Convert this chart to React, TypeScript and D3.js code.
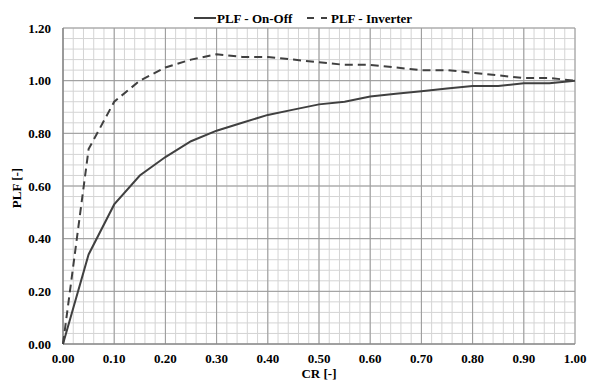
import * as d3 from 'd3'

const crValues = [0, 0.05, 0.1, 0.15, 0.2, 0.25, 0.3, 0.35, 0.4, 0.45, 0.5, 0.55, 0.6, 0.65, 0.7, 0.75, 0.8, 0.85, 0.9, 0.95, 1.0]
const plfOnOff = [0, 0.34, 0.53, 0.64, 0.71, 0.77, 0.81, 0.84, 0.87, 0.89, 0.91, 0.92, 0.94, 0.95, 0.96, 0.97, 0.98, 0.98, 0.99, 0.99, 1.0]
const plfInverter = [0, 0.74, 0.92, 1.0, 1.05, 1.08, 1.1, 1.09, 1.09, 1.08, 1.07, 1.06, 1.06, 1.05, 1.04, 1.04, 1.03, 1.02, 1.01, 1.01, 1.0]
const xTicks = [0, 0.1, 0.2, 0.3, 0.4, 0.5, 0.6, 0.7, 0.8, 0.9, 1.0]
const yTicks = [0, 0.2, 0.4, 0.6, 0.8, 1.0, 1.2]

const W = 593, H = 384
const m = { top: 28, right: 18, bottom: 40, left: 63 }
const font = '"Liberation Serif", "Times New Roman", serif'
const lineColor = '#404040'

const App = () => {
  const x = d3.scaleLinear().domain([0, 1]).range([m.left, W - m.right])
  const y = d3.scaleLinear().domain([0, 1.2]).range([H - m.bottom, m.top])
  const minorX = d3.range(0, 51).map(i => i * 0.02)
  const minorY = d3.range(0, 31).map(i => i * 0.04)
  const line = d3.line<number>()
    .x((_, i) => x(crValues[i]))
    .y(d => y(d))

  return (
    <svg width={W} height={H} style={{ position: 'absolute', left: 0, top: 0, background: '#fff' }}>
      <g>
        {minorX.map((v, i) => (
          <line key={'mx' + i} x1={x(v)} x2={x(v)} y1={y(0)} y2={y(1.2)} stroke="#d4d4d4" strokeWidth={1} />
        ))}
        {minorY.map((v, i) => (
          <line key={'my' + i} x1={x(0)} x2={x(1)} y1={y(v)} y2={y(v)} stroke="#d4d4d4" strokeWidth={1} />
        ))}
        {xTicks.map((v, i) => (
          <line key={'gx' + i} x1={x(v)} x2={x(v)} y1={y(0)} y2={y(1.2)} stroke="#9a9a9a" strokeWidth={1} />
        ))}
        {yTicks.map((v, i) => (
          <line key={'gy' + i} x1={x(0)} x2={x(1)} y1={y(v)} y2={y(v)} stroke="#9a9a9a" strokeWidth={1} />
        ))}
        <line x1={x(0)} x2={x(0)} y1={y(0)} y2={y(1.2)} stroke="#808080" strokeWidth={1.2} />
        <line x1={x(0)} x2={x(1)} y1={y(0)} y2={y(0)} stroke="#808080" strokeWidth={1.2} />
      </g>
      <path d={line(plfOnOff) ?? ''} fill="none" stroke={lineColor} strokeWidth={2} />
      <path d={line(plfInverter) ?? ''} fill="none" stroke={lineColor} strokeWidth={2} strokeDasharray="8,5" />
      <g fontFamily={font} fontWeight="bold" fontSize={13} fill="#000">
        {yTicks.map((v, i) => (
          <text key={'ty' + i} x={x(0) - 12} y={y(v) + 4.5} textAnchor="end">{v.toFixed(2)}</text>
        ))}
        {xTicks.map((v, i) => (
          <text key={'tx' + i} x={x(v)} y={y(0) + 19} textAnchor="middle">{v.toFixed(2)}</text>
        ))}
        <text x={(x(0) + x(1)) / 2} y={H - 6} textAnchor="middle">CR [-]</text>
        <text transform={`translate(21,${(y(0) + y(1.2)) / 2 + 2}) rotate(-90)`} textAnchor="middle">PLF [-]</text>
        <line x1={194} x2={216} y1={18} y2={18} stroke={lineColor} strokeWidth={2} />
        <text x={217} y={22.5}>PLF - On-Off</text>
        <line x1={307} x2={327} y1={18} y2={18} stroke={lineColor} strokeWidth={2} strokeDasharray="7,7" />
        <text x={331} y={22.5}>PLF - Inverter</text>
      </g>
    </svg>
  )
}

export default App
